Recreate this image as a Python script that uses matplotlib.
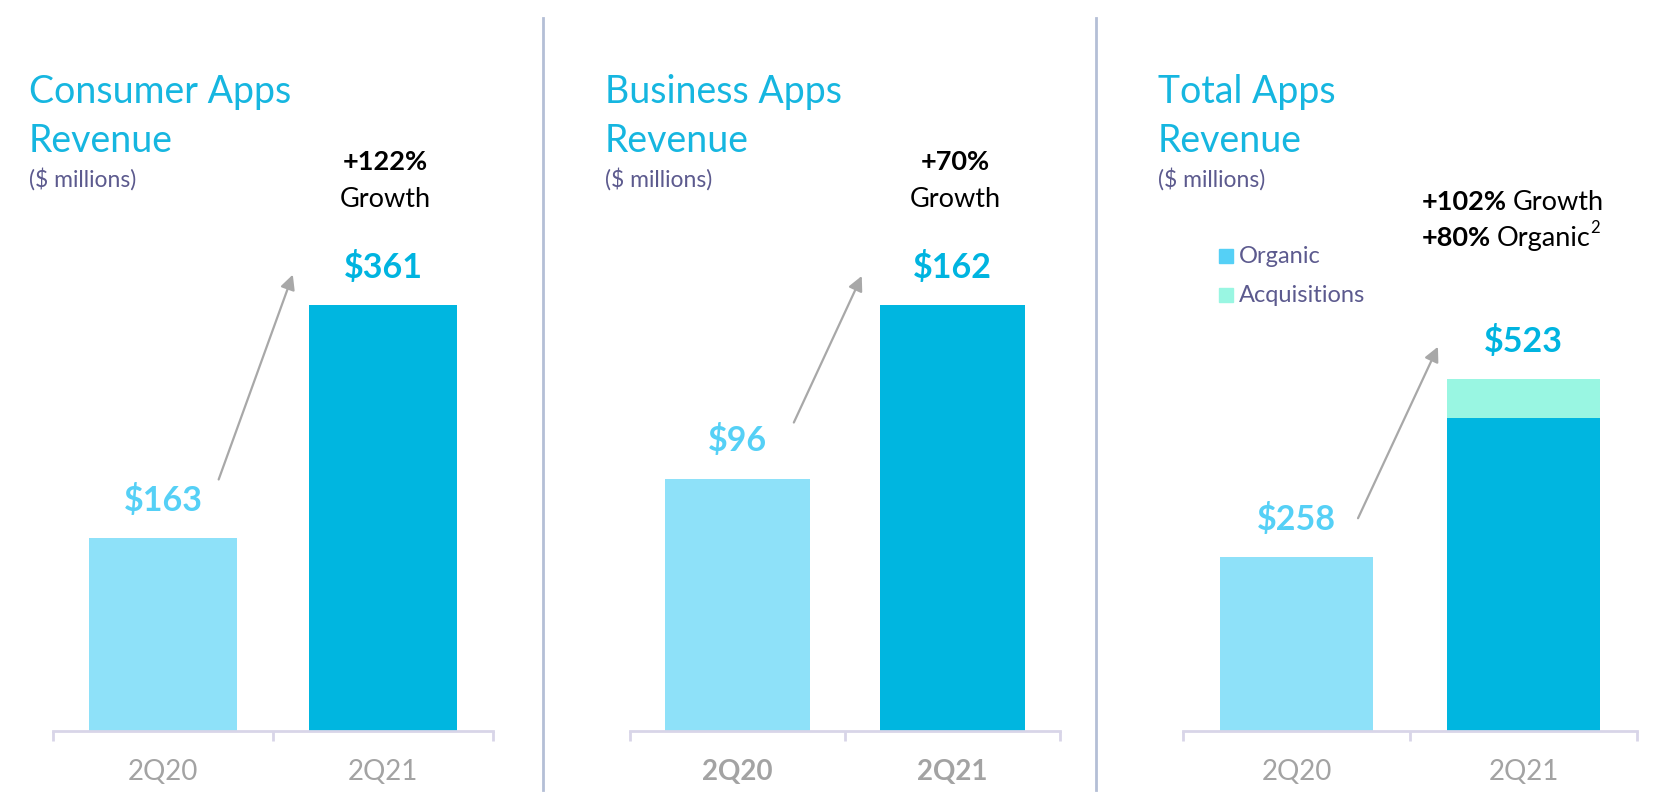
import matplotlib.pyplot as plt
from matplotlib.lines import Line2D
from matplotlib.patches import Rectangle
from matplotlib.transforms import offset_copy

plt.rcParams['font.family'] = ['Lato', 'DejaVu Sans']

# data
periods = ['2Q20', '2Q21']
consumer = [163, 361]
business = [96, 162]
total_organic = [258, 464]
total_acq = [0, 59]
total = [258, 523]
titles = [['Consumer Apps', 'Revenue'], ['Business Apps', 'Revenue'], ['Total Apps', 'Revenue']]
growth = [['+122%', 'Growth'], ['+70%', 'Growth'], ['+102%', '+80%']]

W, H = 1664, 800
fig = plt.figure(figsize=(W/100, H/100), dpi=100)

def fx(px):
    return px/W

def fy(py):
    return 1 - py/H

TITLE = '#16b6e0'
SUB = '#5c5a8e'
LIGHT = '#8ee1f9'
DARK = '#00b6e0'
ACQ = '#99f6e2'
AXC = '#d8d5e8'

# panel geometry in pixels: left, right of axis, y-limit top, title x
panels = [(53, 493, 449.6, 29), (630, 1060, 201.9, 605), (1183, 1637, 788.4, 1158)]
base_y, top_y = 731, 200

axes = []
for i, (l, r, ytop, tx) in enumerate(panels):
    ax = fig.add_axes([fx(l), fy(base_y), fx(r - l), (base_y - top_y)/H])
    ax.set_xlim(-0.5, 1.5)
    ax.set_ylim(0, ytop)
    for s in ['top', 'left', 'right']:
        ax.spines[s].set_visible(False)
    ax.spines['bottom'].set_color(AXC)
    ax.spines['bottom'].set_linewidth(2)
    ax.set_yticks([])
    ax.set_xticks([-0.5, 0.5, 1.5])
    ax.set_xticklabels([])
    ax.tick_params(axis='x', which='major', length=7, width=2, color=AXC, direction='out')
    ax.set_xticks([0, 1], minor=True)
    ax.set_xticklabels(periods, minor=True, fontsize=20, color='#a3a3a3',
                       fontweight='bold' if i == 1 else 'normal')
    ax.tick_params(axis='x', which='minor', length=0, pad=20)
    axes.append(ax)

    # titles
    fig.text(fx(tx), fy(103), titles[i][0], fontsize=27, color=TITLE, va='baseline', ha='left')
    fig.text(fx(tx), fy(152), titles[i][1], fontsize=27, color=TITLE, va='baseline', ha='left')
    fig.text(fx(tx), fy(187), '($ millions)', fontsize=16.5, color=SUB, va='baseline', ha='left')

bw = 0.67
vals = [consumer, business, total]
for i, ax in enumerate(axes):
    v = vals[i]
    if i < 2:
        ax.bar([0, 1], v, width=bw, color=[LIGHT, DARK])
    else:
        ax.bar([0, 1], total_organic, width=bw, color=[LIGHT, DARK])
        ax.bar([0, 1], total_acq, bottom=total_organic, width=bw, color=ACQ)
    for j in range(2):
        ax.annotate('$%d' % v[j], xy=(j, v[j]), xytext=(0, 19.5), textcoords='offset points',
                    ha='center', va='baseline', fontsize=24.5, fontweight='bold',
                    color='#55d0f6' if j == 0 else '#00b4e0')

# growth arrows: (x start, start offset px, x end, end offset px)
arr = [(0.253, 59, 0.59, 30), (0.262, 56, 0.578, 29), (0.271, 39, 0.623, 32)]
for i, ax in enumerate(axes):
    v = vals[i]
    x0, o0, x1, o1 = arr[i]
    t0 = offset_copy(ax.transData, fig=fig, x=0, y=o0, units='dots')
    t1 = offset_copy(ax.transData, fig=fig, x=0, y=o1, units='dots')
    ax.annotate('', xy=(x1, v[1]), xycoords=t1, xytext=(x0, v[0]), textcoords=t0,
                arrowprops=dict(arrowstyle='-|>', color='#a8a8a8', lw=1.6,
                                mutation_scale=22, shrinkA=0, shrinkB=0),
                annotation_clip=False)

# growth text
for i in range(2):
    cx = [385, 955][i]
    fig.text(fx(cx), fy(170), growth[i][0], fontsize=19.5, fontweight='bold', ha='center', va='baseline')
    fig.text(fx(cx), fy(207), growth[i][1], fontsize=19.5, ha='center', va='baseline')

t = fig.text(fx(1422), fy(210), growth[2][0], fontsize=19.5, fontweight='bold', ha='left', va='baseline')
fig.canvas.draw()
bb = t.get_window_extent()
fig.text(fx(bb.x1 + 6), fy(210), 'Growth', fontsize=19.5, ha='left', va='baseline')
t2 = fig.text(fx(1422), fy(246), growth[2][1], fontsize=19.5, fontweight='bold', ha='left', va='baseline')
fig.canvas.draw()
bb2 = t2.get_window_extent()
t3 = fig.text(fx(bb2.x1 + 6), fy(246), 'Organic', fontsize=19.5, ha='left', va='baseline')
fig.canvas.draw()
bb3 = t3.get_window_extent()
fig.text(fx(bb3.x1 - 1), fy(233), '2', fontsize=12, ha='left', va='baseline')

# legend
for k, (lab, c) in enumerate([('Organic', '#55d0f6'), ('Acquisitions', ACQ)]):
    yb = 263 + 39*k
    fig.add_artist(Rectangle((fx(1219), fy(yb)), fx(14), 14/H, color=c, transform=fig.transFigure))
    fig.text(fx(1239), fy(yb), lab, fontsize=17, color=SUB, ha='left', va='baseline')

# dividers
for xd in [543, 1096]:
    fig.add_artist(Line2D([fx(xd), fx(xd)], [fy(18), fy(790)], color='#b4bfd6', lw=2,
                          transform=fig.transFigure))

fig.savefig('out.png', dpi=100)
